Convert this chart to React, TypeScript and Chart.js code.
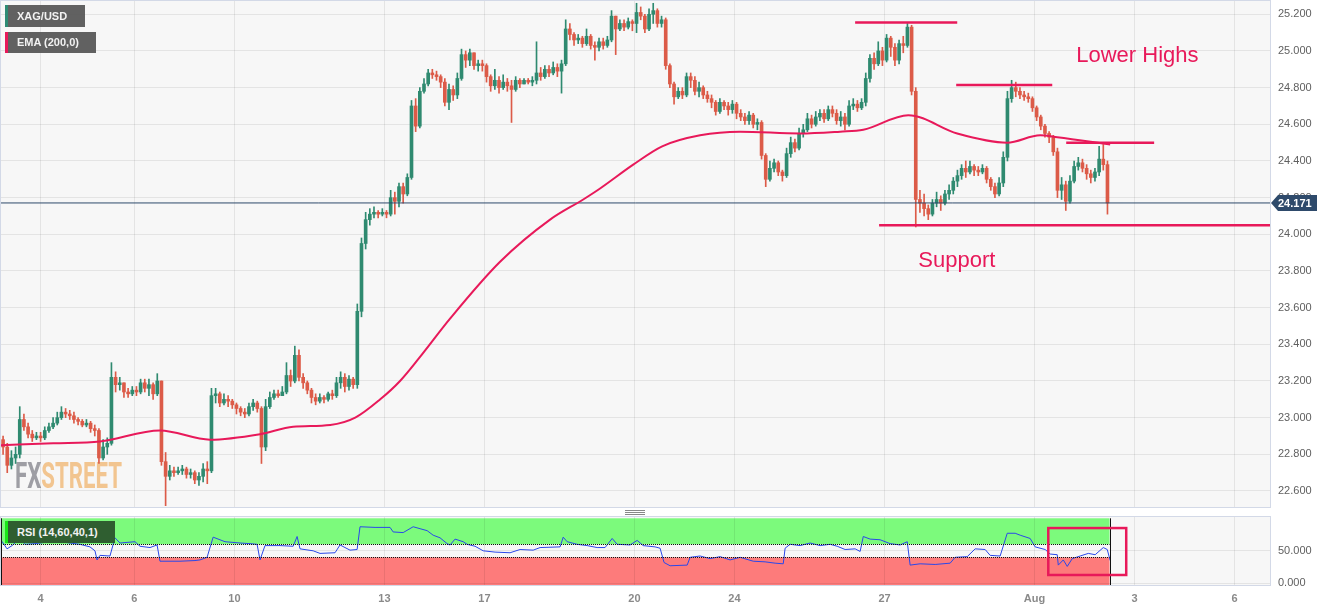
import React, { useEffect, useRef } from 'react';
import { Chart, registerables } from 'chart.js';

Chart.register(...registerables);

const FONT = 'Arial, "Liberation Sans", sans-serif';

// ---------- time axis (trading hours since the left edge of the window) ----------
const dayTickHours = [19, 64, 112, 184, 232, 304, 352, 424, 496, 544, 592];
const dayTickLabels = ['4', '6', '10', '13', '17', '20', '24', '27', 'Aug', '3', '6'];
const X_MAX = 609;
const CANDLE_HOURS = 2;

// ---------- price axis ----------
const priceTicks = [22.6, 22.8, 23.0, 23.2, 23.4, 23.6, 23.8, 24.0, 24.2, 24.4, 24.6, 24.8, 25.0, 25.2];
const PRICE_MIN = 22.5127;
const PRICE_MAX = 25.2725;

// ---------- XAG/USD candles (2-hour) ----------
const firstOpen = 22.88;
const closes = [
  22.84, 22.74, 22.78, 22.8, 22.99, 22.95, 22.91, 22.89, 22.9, 22.89,
  22.93, 22.95, 22.97, 23.0, 23.03, 23.02, 23.01, 22.99, 22.98, 22.96,
  22.97, 22.94, 22.93, 22.78, 22.84, 22.86, 23.22, 23.18, 23.19, 23.14,
  23.13, 23.15, 23.14, 23.19, 23.16, 23.18, 23.13, 23.2, 22.76, 22.68,
  22.71, 22.7, 22.71, 22.72, 22.69, 22.7, 22.66, 22.68, 22.72, 22.71,
  23.12, 23.13, 23.08, 23.1, 23.09, 23.07, 23.05, 23.03, 23.02, 23.06,
  23.08, 23.05, 22.84, 23.06, 23.11, 23.13, 23.12, 23.14, 23.23, 23.2,
  23.34, 23.22, 23.19, 23.15, 23.11, 23.09, 23.11, 23.1, 23.13, 23.12,
  23.19, 23.22, 23.17, 23.21, 23.18, 23.58, 23.95, 24.08, 24.11, 24.12,
  24.11, 24.12, 24.11, 24.2, 24.18, 24.26, 24.22, 24.31, 24.7, 24.59,
  24.78, 24.82, 24.88, 24.87, 24.86, 24.83, 24.72, 24.79, 24.76, 24.85,
  24.98, 24.95, 24.99, 24.92, 24.93, 24.92, 24.86, 24.81, 24.84, 24.8,
  24.83, 24.81, 24.79, 24.84, 24.82, 24.84, 24.83, 24.84, 24.88, 24.86,
  24.9, 24.88, 24.91, 24.89, 24.93, 25.12, 25.09, 25.06, 25.07, 25.04,
  25.08, 25.03, 25.02, 25.05, 25.03, 25.06, 25.19, 25.12, 25.15, 25.13,
  25.16, 25.15, 25.21, 25.19, 25.12, 25.2, 25.22, 25.15, 25.17, 24.92,
  24.82, 24.75, 24.78, 24.76, 24.86, 24.84, 24.78, 24.8, 24.76, 24.74,
  24.72, 24.67, 24.72, 24.7, 24.68, 24.71, 24.66, 24.64, 24.62, 24.65,
  24.6, 24.61, 24.43, 24.3, 24.36, 24.39, 24.34, 24.32, 24.44, 24.5,
  24.47, 24.55, 24.57, 24.63, 24.6, 24.64, 24.66, 24.63, 24.68, 24.66,
  24.62, 24.64, 24.6, 24.7, 24.71, 24.69, 24.72, 24.85, 24.96, 24.93,
  25.0, 24.95, 25.07, 25.02, 24.95, 25.04, 25.03, 25.13, 24.78, 24.19,
  24.17, 24.14, 24.11, 24.17, 24.19, 24.17, 24.22, 24.24, 24.29, 24.32,
  24.36, 24.34, 24.37, 24.35, 24.34, 24.36, 24.3, 24.26, 24.22, 24.28,
  24.42, 24.74, 24.8, 24.78, 24.76, 24.75, 24.74, 24.69, 24.64, 24.59,
  24.55, 24.53, 24.45, 24.24, 24.27, 24.18, 24.29, 24.37, 24.39, 24.36,
  24.33, 24.31, 24.34, 24.41, 24.38, 24.171,
];
const highs = [
  22.9, 22.86, 22.82, 22.84, 23.06, 23.02, 22.97, 22.93, 22.92, 22.92,
  22.95, 22.97, 23.0, 23.03, 23.06, 23.05, 23.04, 23.03, 23.0, 22.99,
  22.99, 22.98, 22.96, 22.94, 22.88, 22.89, 23.3, 23.25, 23.22, 23.19,
  23.16, 23.17, 23.17, 23.21, 23.21, 23.21, 23.19, 23.24, 23.2, 22.81,
  22.74, 22.73, 22.73, 22.74, 22.73, 22.72, 22.71, 22.7, 22.75, 22.76,
  23.16, 23.16, 23.14, 23.13, 23.12, 23.1, 23.08, 23.06, 23.05, 23.08,
  23.1, 23.09, 23.06, 23.1, 23.14, 23.15, 23.15, 23.17, 23.3, 23.26,
  23.39, 23.37, 23.24, 23.2, 23.16, 23.13, 23.13, 23.12, 23.14, 23.15,
  23.22, 23.25, 23.24, 23.23, 23.22, 23.62, 23.98, 24.12, 24.14, 24.15,
  24.13, 24.14, 24.13, 24.24, 24.23, 24.28, 24.28, 24.33, 24.73, 24.74,
  24.8, 24.85, 24.9, 24.9, 24.89, 24.87, 24.85, 24.82, 24.81, 24.88,
  25.01, 25.0, 25.01, 24.99, 24.95, 24.95, 24.93, 24.87, 24.9, 24.86,
  24.87, 24.85, 24.84, 24.86, 24.85, 24.85, 24.85, 24.86, 25.05, 24.91,
  24.92, 24.92, 24.94, 24.93, 24.95, 25.17, 25.15, 25.1, 25.09, 25.08,
  25.12, 25.09, 25.05, 25.07, 25.07, 25.08, 25.22, 25.19, 25.17, 25.17,
  25.18, 25.17, 25.26, 25.24, 25.2, 25.23, 25.26, 25.23, 25.19, 25.18,
  24.93, 24.83, 24.8, 24.8, 24.88, 24.88, 24.86, 24.83, 24.81, 24.78,
  24.76, 24.73, 24.74, 24.73, 24.72, 24.73, 24.72, 24.68, 24.66, 24.67,
  24.66, 24.63, 24.62, 24.44, 24.4, 24.41, 24.4, 24.35, 24.47, 24.53,
  24.52, 24.58, 24.6, 24.66, 24.65, 24.67, 24.68, 24.68, 24.7, 24.7,
  24.68, 24.67, 24.66, 24.73, 24.74, 24.73, 24.74, 24.88, 24.98, 24.99,
  25.05, 25.02, 25.09, 25.08, 25.04, 25.06, 25.08, 25.15, 25.14, 24.8,
  24.24, 24.22, 24.16, 24.19, 24.23, 24.21, 24.24, 24.27, 24.31, 24.35,
  24.38, 24.4, 24.4, 24.38, 24.37, 24.38, 24.37, 24.31, 24.28, 24.31,
  24.45, 24.78, 24.84, 24.83, 24.8, 24.78, 24.77, 24.75, 24.7, 24.65,
  24.6, 24.56, 24.54, 24.47, 24.31, 24.29, 24.32, 24.4, 24.42, 24.41,
  24.38, 24.35, 24.36, 24.48, 24.49, 24.4,
];
const lows = [
  22.8, 22.7, 22.72, 22.75, 22.78, 22.93, 22.89, 22.87, 22.88, 22.87,
  22.88, 22.92, 22.94, 22.96, 22.99, 23.0, 22.99, 22.97, 22.96, 22.95,
  22.95, 22.92, 22.9, 22.75, 22.77, 22.8, 22.85, 23.14, 23.15, 23.11,
  23.11, 23.12, 23.12, 23.13, 23.14, 23.12, 23.1, 23.12, 22.74, 22.52,
  22.66, 22.68, 22.69, 22.69, 22.67, 22.67, 22.64, 22.63, 22.65, 22.64,
  22.7, 23.08, 23.06, 23.07, 23.06, 23.05, 23.02, 23.01, 23.0, 23.01,
  23.04, 23.03, 22.75, 22.82, 23.05, 23.1, 23.11, 23.12, 23.13, 23.17,
  23.19, 23.2, 23.16, 23.13, 23.08, 23.07, 23.08, 23.08, 23.09, 23.1,
  23.11, 23.16, 23.14, 23.15, 23.16, 23.16, 23.55, 23.92, 24.05, 24.09,
  24.09, 24.1, 24.09, 24.1, 24.11, 24.15, 24.17, 24.21, 24.3, 24.56,
  24.58, 24.77, 24.81, 24.85, 24.84, 24.8, 24.7, 24.68, 24.73, 24.74,
  24.84, 24.91, 24.92, 24.9, 24.89, 24.89, 24.83, 24.78, 24.79, 24.77,
  24.79, 24.78, 24.61, 24.78, 24.8, 24.82, 24.82, 24.81, 24.82, 24.84,
  24.85, 24.86, 24.87, 24.86, 24.77, 24.92, 25.06, 25.03, 25.04, 25.02,
  25.03, 25.01, 24.95, 25.0, 25.01, 25.02, 25.05, 24.98, 25.11, 25.11,
  25.12, 25.11, 25.1, 25.17, 25.1, 25.11, 25.15, 25.13, 25.13, 24.9,
  24.8, 24.71, 24.74, 24.74, 24.75, 24.8, 24.76, 24.75, 24.74, 24.72,
  24.69, 24.65, 24.66, 24.68, 24.65, 24.66, 24.63, 24.62, 24.6, 24.6,
  24.58, 24.57, 24.41, 24.26, 24.29, 24.34, 24.32, 24.29, 24.31, 24.42,
  24.45, 24.46, 24.53, 24.56, 24.58, 24.59, 24.62, 24.61, 24.62, 24.64,
  24.6, 24.59, 24.57, 24.59, 24.68, 24.67, 24.68, 24.7, 24.83, 24.9,
  24.92, 24.92, 24.94, 24.97, 24.92, 24.93, 24.99, 25.02, 24.76, 24.04,
  24.12, 24.1, 24.08, 24.1, 24.15, 24.13, 24.16, 24.19, 24.22, 24.26,
  24.3, 24.31, 24.33, 24.32, 24.32, 24.33, 24.28, 24.24, 24.2, 24.21,
  24.26, 24.4, 24.72, 24.75, 24.74, 24.73, 24.72, 24.67, 24.62, 24.57,
  24.53, 24.5, 24.43, 24.2, 24.19, 24.13, 24.17, 24.28, 24.35, 24.34,
  24.3, 24.28, 24.29, 24.32, 24.35, 24.11,
];
const lastPrice = 24.171;

// ---------- EMA (200) ----------
const emaHours = [0, 25, 47.5, 76.3, 100.3, 124.3, 140.2, 158, 170, 182, 191.5, 201, 215.5, 239.5, 263.5, 279.4, 287.5, 303.4, 317.3, 335.5, 354.7, 383.5, 402.7, 413.8, 435.4, 458.9, 482.9, 498.7, 506.9, 532.3];
const emaValues = [22.85, 22.86, 22.87, 22.93, 22.88, 22.91, 22.95, 22.96, 23.0, 23.1, 23.2, 23.33, 23.54, 23.85, 24.08, 24.19, 24.25, 24.38, 24.48, 24.54, 24.56, 24.55, 24.56, 24.57, 24.65, 24.55, 24.5, 24.54, 24.53, 24.49];

// ---------- RSI (14) ----------
const rsiHours = [0, 1, 2.9, 5.3, 9.1, 11.5, 16.3, 23.5, 30.7, 37.9, 42.7, 45.1, 46.1, 47.5, 52.3, 54.7, 57.1, 64.3, 66.7, 71.5, 74.9, 76.3, 85.9, 93.1, 95.5, 98.9, 101.8, 107.5, 114.7, 119.5, 122.9, 124.3, 126.7, 133.9, 140.2, 142.1, 143.5, 149.8, 153.1, 160.3, 162.7, 167.5, 170.9, 172.3, 179.5, 186.7, 188.2, 193, 197.8, 201.1, 204.5, 207.4, 210.7, 214.1, 215.5, 217.9, 221.8, 223.7, 227.5, 231.4, 237.1, 244.3, 249.1, 255.4, 258.7, 268.3, 269.8, 271.7, 276.5, 281.3, 286.1, 289.9, 293.3, 295.7, 301.9, 305.3, 308.2, 313.9, 316.3, 318.2, 321.1, 329.3, 330.7, 335.5, 340.3, 345.1, 349.9, 354.7, 361, 366.7, 371.5, 375.4, 376.3, 378.7, 383.5, 388.3, 393.1, 397.9, 401.3, 405.1, 409.9, 412.3, 413.8, 417.1, 421.9, 426.7, 431.5, 434.9, 436.3, 441.1, 448.3, 455.5, 457.9, 463.7, 467.5, 472.3, 474.7, 479.5, 482.9, 486.7, 489.1, 493.9, 496.3, 501.1, 503.5, 506.9, 507.4, 509.8, 511.7, 514.1, 517.9, 521.8, 525.1, 529, 530.9, 532.3];
const rsiValues = [66, 62, 53, 58, 69, 60, 61, 64, 63, 60, 56, 50, 36, 43, 42, 70, 62, 64, 57, 55, 59, 34, 34, 35, 36, 40, 71, 64, 62, 61, 60, 36, 58, 58, 57, 72, 53, 50, 46, 47, 59, 51, 52, 87, 86, 86, 79, 78, 87, 84, 81, 74, 70, 61, 59, 68, 64, 60, 57, 50, 48, 47, 52, 51, 55, 56, 71, 64, 60, 58, 55, 55, 69, 60, 59, 66, 58, 56, 54, 32, 27, 28, 40, 42, 38, 41, 36, 40, 34, 33, 31, 30, 54, 60, 58, 62, 58, 60, 57, 52, 53, 49, 72, 68, 67, 61, 59, 64, 28, 30, 29, 31, 40, 41, 53, 52, 43, 42, 77, 77, 74, 69, 56, 52, 45, 44, 28, 36, 26, 38, 42, 46, 44, 55, 52, 35];
const rsiTicks = [0, 50];
const RSI_MIN = -2.6;
const RSI_MAX = 102;
const RSI_UPPER = 60;
const RSI_LOWER = 40;
const RSI_TOP = 100;
const rsiBoxHours = [502.6, 540];
const rsiBoxValues = [85, 12.8];

// ---------- drawn annotations ----------
const levelNames = ['high1', 'high2', 'high3', 'support'];
const levelStartHours = [409.9, 458.4, 511.2, 421.4];
const levelEndHours = [458.9, 504.5, 553.4, 609];
const levelPrices = [25.155, 24.814, 24.5, 24.05];
const noteTexts = ['Lower Highs', 'Support'];
const noteHours = [516, 440.2];
const notePrices = [24.972, 23.854];

// ---------- colors ----------
const UP = '#2f8a70';
const DOWN = '#dc5b48';
const PINK = '#e8195a';
const NAVY = '#2e4a6b';
const PANEL_BG = '#f7f7f7';
const PANEL_BORDER = '#d3d9e7';
const GRID = 'rgba(0,0,0,0.075)';

Chart.defaults.font.family = FONT;

const zeroPad = (s: any) => {
  s.paddingTop = 0;
  s.paddingBottom = 0;
  s.paddingLeft = 0;
  s.paddingRight = 0;
};

const panelPlugin = {
  id: 'panel',
  beforeDraw(chart: any) {
    const { ctx, chartArea: ca } = chart;
    ctx.save();
    ctx.fillStyle = PANEL_BG;
    ctx.fillRect(ca.left, ca.top, ca.right - ca.left, ca.bottom - ca.top);
    ctx.restore();
  },
  afterDraw(chart: any) {
    const { ctx, chartArea: ca } = chart;
    ctx.save();
    ctx.strokeStyle = PANEL_BORDER;
    ctx.lineWidth = 1;
    ctx.strokeRect(ca.left - 0.5, ca.top - 0.5, ca.right - ca.left + 1, ca.bottom - ca.top + 1);
    ctx.restore();
  },
};

const watermarkPlugin = {
  id: 'watermark',
  beforeDraw(chart: any) {
    const { ctx, chartArea: ca } = chart;
    ctx.save();
    ctx.font = 'bold 36px Roboto, Arial, sans-serif';
    const wFX = ctx.measureText('FX').width;
    const wST = ctx.measureText('STREET').width;
    const sx = 107 / (wFX + wST);
    ctx.translate(ca.left + 14, ca.bottom - 19);
    ctx.scale(sx, 1);
    ctx.textBaseline = 'alphabetic';
    ctx.fillStyle = '#9e9ea4';
    ctx.fillText('FX', 0, 0);
    ctx.fillStyle = '#f2c590';
    ctx.fillText('STREET', wFX, 0);
    ctx.restore();
  },
};

const notesPlugin = {
  id: 'notes',
  afterDatasetsDraw(chart: any) {
    const { ctx, scales } = chart;
    ctx.save();
    ctx.fillStyle = PINK;
    ctx.font = '22px ' + FONT;
    ctx.textBaseline = 'middle';
    ctx.textAlign = 'left';
    noteTexts.forEach((t, i) => {
      ctx.fillText(t, scales.x.getPixelForValue(noteHours[i]), scales.y.getPixelForValue(notePrices[i]));
    });
    ctx.restore();
  },
  afterDraw(chart: any) {
    const { ctx, chartArea: ca, scales } = chart;
    const y = Math.round(scales.y.getPixelForValue(lastPrice));
    const x0 = ca.right + 1;
    ctx.save();
    ctx.fillStyle = NAVY;
    ctx.beginPath();
    ctx.moveTo(x0, y);
    ctx.lineTo(x0 + 7, y - 8);
    ctx.lineTo(x0 + 46, y - 8);
    ctx.lineTo(x0 + 46, y + 8);
    ctx.lineTo(x0 + 7, y + 8);
    ctx.closePath();
    ctx.fill();
    ctx.fillStyle = '#ffffff';
    ctx.font = 'bold 11px ' + FONT;
    ctx.textBaseline = 'middle';
    ctx.textAlign = 'left';
    ctx.fillText(lastPrice.toFixed(3), x0 + 7, y + 0.5);
    ctx.restore();
  },
};

const rsiBandsPlugin = {
  id: 'rsiBands',
  beforeDraw(chart: any) {
    const { ctx, chartArea: ca, scales } = chart;
    const xs = scales.x.getPixelForValue(0);
    const xe = scales.x.getPixelForValue(closes.length * CANDLE_HOURS);
    const yTop = scales.y.getPixelForValue(RSI_TOP);
    const yU = scales.y.getPixelForValue(RSI_UPPER);
    const yL = scales.y.getPixelForValue(RSI_LOWER);
    ctx.save();
    ctx.fillStyle = PANEL_BG;
    ctx.fillRect(ca.left, ca.top, ca.right - ca.left, ca.bottom - ca.top);
    ctx.fillStyle = '#7cfa7c';
    ctx.fillRect(xs, yTop, xe - xs, yU - yTop);
    ctx.fillStyle = '#fd7b7b';
    ctx.fillRect(xs, yL, xe - xs, ca.bottom - yL);
    ctx.restore();
  },
  afterDraw(chart: any) {
    const { ctx, chartArea: ca, scales } = chart;
    const xs = scales.x.getPixelForValue(0);
    const xe = scales.x.getPixelForValue(closes.length * CANDLE_HOURS);
    const yTop = scales.y.getPixelForValue(RSI_TOP);
    const yU = Math.round(scales.y.getPixelForValue(RSI_UPPER)) + 0.5;
    const yL = Math.round(scales.y.getPixelForValue(RSI_LOWER)) + 0.5;
    ctx.save();
    ctx.strokeStyle = '#111';
    ctx.lineWidth = 1;
    ctx.setLineDash([1, 1]);
    ctx.beginPath();
    ctx.moveTo(xs, yU); ctx.lineTo(xe, yU);
    ctx.moveTo(xs, yL); ctx.lineTo(xe, yL);
    ctx.stroke();
    ctx.setLineDash([]);
    ctx.beginPath();
    ctx.moveTo(Math.round(xe) + 0.5, yTop); ctx.lineTo(Math.round(xe) + 0.5, ca.bottom);
    ctx.moveTo(xs + 0.5, yTop); ctx.lineTo(xs + 0.5, ca.bottom);
    ctx.stroke();
    const bx0 = scales.x.getPixelForValue(rsiBoxHours[0]);
    const bx1 = scales.x.getPixelForValue(rsiBoxHours[1]);
    const by0 = scales.y.getPixelForValue(rsiBoxValues[0]);
    const by1 = scales.y.getPixelForValue(rsiBoxValues[1]);
    ctx.strokeStyle = PINK;
    ctx.lineWidth = 2.5;
    ctx.strokeRect(bx0, by0, bx1 - bx0, by1 - by0);
    ctx.strokeStyle = PANEL_BORDER;
    ctx.lineWidth = 1;
    ctx.strokeRect(ca.left - 0.5, ca.top - 0.5, ca.right - ca.left + 1, ca.bottom - ca.top + 1);
    ctx.restore();
  },
};

const xAxisBase = (showLabels: boolean) => ({
  type: 'linear' as const,
  min: 0,
  max: X_MAX,
  offset: false,
  grid: { color: GRID, drawTicks: false, offset: false },
  border: { display: false },
  ticks: {
    display: showLabels,
    autoSkip: false,
    maxRotation: 0,
    padding: 7,
    color: '#8a8a8a',
    font: { size: 11, weight: 'bold' as const },
    callback: (v: any) => {
      const k = dayTickHours.indexOf(Number(v));
      return k >= 0 ? dayTickLabels[k] : '';
    },
  },
  afterBuildTicks: (s: any) => {
    s.ticks = dayTickHours.map((v) => ({ value: v }));
  },
  afterFit: (s: any) => {
    s.height = showLabels ? 26 : 0;
    zeroPad(s);
  },
});

const yAxisBase = (min: number, max: number, ticks: number[]) => ({
  type: 'linear' as const,
  position: 'right' as const,
  min,
  max,
  grid: { color: GRID, drawTicks: false },
  border: { display: false },
  ticks: {
    padding: 8,
    color: '#606060',
    font: { size: 11 },
    callback: (v: any) => Number(v).toFixed(3),
  },
  afterBuildTicks: (s: any) => {
    s.ticks = ticks.map((v) => ({ value: v }));
  },
  afterFit: (s: any) => {
    s.width = 65;
    zeroPad(s);
  },
});

export default function App() {
  const mainRef = useRef<HTMLCanvasElement>(null);
  const rsiRef = useRef<HTMLCanvasElement>(null);

  useEffect(() => {
    const opens = closes.map((c, i) => (i === 0 ? firstOpen : closes[i - 1]));
    const candleX = closes.map((_, i) => i * CANDLE_HOURS + CANDLE_HOURS / 2);
    const colors = closes.map((c, i) => (c >= opens[i] ? UP : DOWN));

    const levelSets = levelNames.map((name, i) => ({
      type: 'line' as const,
      label: name,
      data: [
        { x: levelStartHours[i], y: levelPrices[i] },
        { x: levelEndHours[i], y: levelPrices[i] },
      ],
      borderColor: PINK,
      borderWidth: 2.5,
      pointRadius: 0,
      order: 0,
    }));

    const main = new Chart(mainRef.current as HTMLCanvasElement, {
      type: 'bar',
      data: {
        datasets: [
          ...levelSets,
          {
            type: 'line',
            label: 'EMA (200,0)',
            data: emaHours.map((h, i) => ({ x: h, y: emaValues[i] })),
            borderColor: PINK,
            borderWidth: 2,
            pointRadius: 0,
            cubicInterpolationMode: 'monotone',
            order: 1,
          },
          {
            type: 'line',
            label: 'last',
            data: [
              { x: 0, y: lastPrice },
              { x: X_MAX, y: lastPrice },
            ],
            borderColor: NAVY,
            borderWidth: 1,
            pointRadius: 0,
            order: 2,
          },
          {
            type: 'bar',
            label: 'body',
            data: candleX.map((x, i) => ({ x, y: [opens[i], closes[i]] })) as any,
            backgroundColor: colors,
            borderWidth: 0,
            barThickness: 3,
            grouped: false,
            minBarLength: 1,
            order: 3,
          } as any,
          {
            type: 'bar',
            label: 'wick',
            data: candleX.map((x, i) => ({ x, y: [lows[i], highs[i]] })) as any,
            backgroundColor: colors,
            borderWidth: 0,
            barThickness: 1,
            grouped: false,
            order: 4,
          } as any,
        ],
      },
      options: {
        animation: false,
        responsive: false,
        maintainAspectRatio: false,
        events: [],
        layout: { autoPadding: false, padding: { left: 1, top: 1, right: 0, bottom: 1 } },
        plugins: { legend: { display: false }, tooltip: { enabled: false } },
        scales: {
          x: xAxisBase(false) as any,
          y: yAxisBase(PRICE_MIN, PRICE_MAX, priceTicks) as any,
        },
      },
      plugins: [panelPlugin, watermarkPlugin, notesPlugin],
    });

    const rsi = new Chart(rsiRef.current as HTMLCanvasElement, {
      type: 'line',
      data: {
        datasets: [
          {
            label: 'RSI (14,60,40,1)',
            data: rsiHours.map((h, i) => ({ x: h, y: rsiValues[i] })),
            borderColor: '#2a48ea',
            borderWidth: 1,
            pointRadius: 0,
          },
        ],
      },
      options: {
        animation: false,
        responsive: false,
        maintainAspectRatio: false,
        events: [],
        layout: { autoPadding: false, padding: { left: 1, top: 1, right: 0, bottom: 0 } },
        plugins: { legend: { display: false }, tooltip: { enabled: false } },
        scales: {
          x: xAxisBase(true) as any,
          y: yAxisBase(RSI_MIN, RSI_MAX, rsiTicks) as any,
        },
      },
      plugins: [rsiBandsPlugin],
    });

    return () => {
      main.destroy();
      rsi.destroy();
    };
  }, []);

  const legendBox = (top: number, width: number, accent: string, bg: string, text: string, height: number) => (
    <div
      style={{
        position: 'absolute',
        left: 5,
        top,
        width: width - 3,
        height,
        background: bg,
        borderLeft: `3px solid ${accent}`,
        color: '#f2f2f2',
        font: `bold 11px ${FONT}`,
        lineHeight: `${height}px`,
        paddingLeft: 9,
        boxSizing: 'border-box',
        whiteSpace: 'nowrap',
      }}
    >
      {text}
    </div>
  );

  return (
    <div style={{ position: 'fixed', left: 0, top: 0, width: 1335, height: 611, background: '#ffffff', overflow: 'hidden' }}>
      <canvas ref={mainRef} width={1335} height={508} style={{ position: 'absolute', left: 0, top: 0, width: 1335, height: 508 }} />
      <canvas ref={rsiRef} width={1335} height={95} style={{ position: 'absolute', left: 0, top: 516, width: 1335, height: 95 }} />
      {legendBox(5, 83, '#2e8b74', 'rgba(88,88,88,0.95)', 'XAG/USD', 22)}
      {legendBox(32, 94, PINK, 'rgba(88,88,88,0.95)', 'EMA (200,0)', 21)}
      {legendBox(521, 113, '#19e619', '#2f5e30', 'RSI (14,60,40,1)', 22)}
      <div style={{ position: 'absolute', left: 625, top: 510, width: 20, height: 1, background: '#888' }} />
      <div style={{ position: 'absolute', left: 625, top: 512, width: 20, height: 1, background: '#888' }} />
      <div style={{ position: 'absolute', left: 625, top: 514, width: 20, height: 1, background: '#888' }} />
    </div>
  );
}
